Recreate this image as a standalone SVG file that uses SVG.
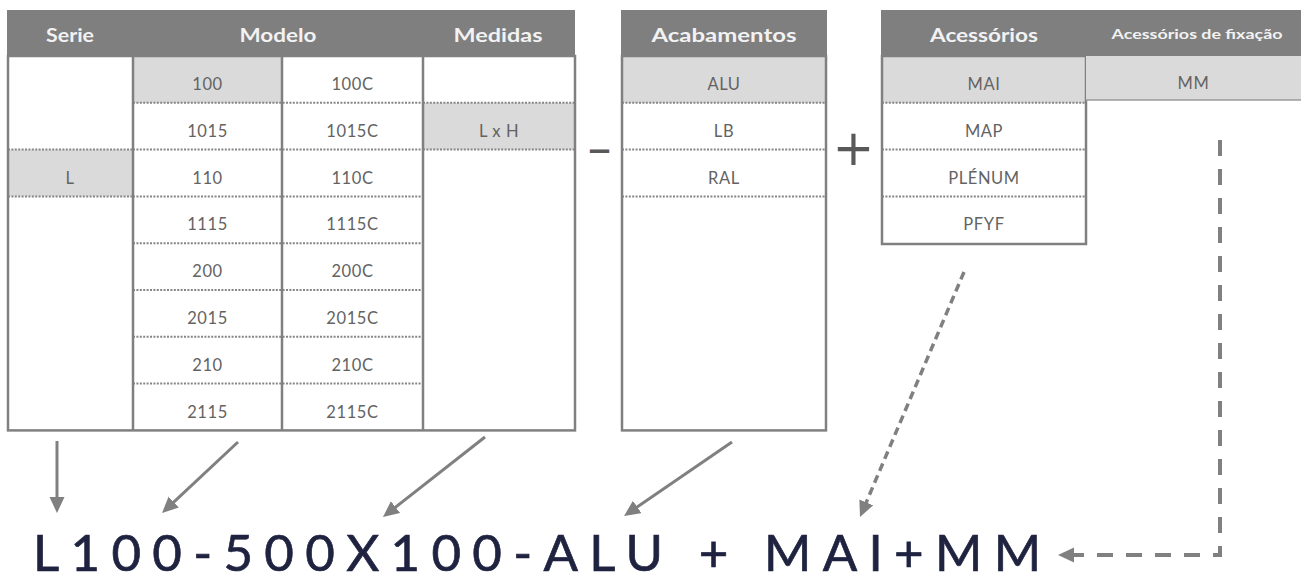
<svg xmlns="http://www.w3.org/2000/svg" width="1301" height="581" viewBox="0 0 1301 581">
<style>
.hdr{fill:#7f7f7f}
.ht{font-family:Lato,"Open Sans",sans-serif;font-weight:bold;font-size:18px;fill:#f2f2f2;text-anchor:middle}
.bt{font-family:Lato,"Open Sans",sans-serif;font-size:16.5px;fill:#636363;text-anchor:middle;letter-spacing:0.6px}
.sh{fill:#dadada}
.dot{stroke:#858585;stroke-width:2;stroke-dasharray:2 1.4;fill:none}
.bd{stroke:#808080;stroke-width:2.5;fill:none}
.op{font-family:"DejaVu Sans",sans-serif;fill:#595959;text-anchor:middle}
.ar{stroke:#808080;stroke-width:3;fill:none}
.ds{stroke:#808080;stroke-width:3.5;fill:none;stroke-dasharray:8 5}
.dl{stroke:#808080;stroke-width:4;fill:none;stroke-dasharray:16 13}
</style>
<defs>
<marker id="ah" markerUnits="userSpaceOnUse" markerWidth="16" markerHeight="16" viewBox="0 0 16 16" refX="4" refY="7.5" orient="auto">
<path d="M0,0 L16,7.5 L0,15 z" fill="#808080"/>
</marker>
</defs>
<rect width="1301" height="581" fill="#ffffff"/>

<g id="serie">
<rect class="sh" x="8" y="149.6" width="125" height="46.8"/>
<path class="dot" d="M8,149.6H133M8,196.4H133"/>
<rect class="hdr" x="7" y="10" width="126" height="46"/>
<text class="ht" x="70" y="41.5" textLength="48" lengthAdjust="spacingAndGlyphs">Serie</text>
<text class="bt" x="70" y="183.6">L</text>
</g>

<g id="modelo">
<rect class="sh" x="133" y="56" width="149" height="46.8"/>
<path class="dot" d="M133,102.8H423M133,149.6H423M133,196.4H423M133,243.2H423M133,290H423M133,336.8H423M133,383.6H423"/>
<rect class="hdr" x="132" y="10" width="292" height="46"/>
<text class="ht" x="278" y="41.5" textLength="77" lengthAdjust="spacingAndGlyphs">Modelo</text>
<text class="bt" x="207.5" y="90">100</text>
<text class="bt" x="207.5" y="136.8">1015</text>
<text class="bt" x="207.5" y="183.6">110</text>
<text class="bt" x="207.5" y="230.4">1115</text>
<text class="bt" x="207.5" y="277.2">200</text>
<text class="bt" x="207.5" y="324">2015</text>
<text class="bt" x="207.5" y="370.8">210</text>
<text class="bt" x="207.5" y="417.6">2115</text>
<text class="bt" x="352.5" y="90">100C</text>
<text class="bt" x="352.5" y="136.8">1015C</text>
<text class="bt" x="352.5" y="183.6">110C</text>
<text class="bt" x="352.5" y="230.4">1115C</text>
<text class="bt" x="352.5" y="277.2">200C</text>
<text class="bt" x="352.5" y="324">2015C</text>
<text class="bt" x="352.5" y="370.8">210C</text>
<text class="bt" x="352.5" y="417.6">2115C</text>
</g>

<g id="medidas">
<rect class="sh" x="423" y="102.8" width="152" height="46.8"/>
<path class="dot" d="M423,102.8H575M423,149.6H575"/>
<rect class="hdr" x="423" y="10" width="152" height="46"/>
<text class="ht" x="498" y="41.5" textLength="89" lengthAdjust="spacingAndGlyphs">Medidas</text>
<text class="bt" x="499" y="136.8">L x H</text>
</g>

<g id="tabela-borda">
<rect class="bd" x="8" y="56" width="567" height="374.4"/>
<path class="bd" d="M133,56V430.4M282,56V430.4M423,56V430.4"/>
</g>

<g id="acabamentos">
<rect class="sh" x="622" y="56" width="204" height="46.8"/>
<path class="dot" d="M622,102.8H826M622,149.6H826M622,196.4H826"/>
<rect class="hdr" x="621" y="10" width="206" height="46"/>
<text class="ht" x="724" y="41.5" textLength="145" lengthAdjust="spacingAndGlyphs">Acabamentos</text>
<text class="bt" x="724" y="90">ALU</text>
<text class="bt" x="724" y="136.8">LB</text>
<text class="bt" x="724" y="183.6">RAL</text>
<rect class="bd" x="622" y="56" width="204" height="374.4"/>
</g>

<g id="acessorios">
<rect class="sh" x="882" y="56" width="204" height="46.8"/>
<path class="dot" d="M882,102.8H1086M882,149.6H1086M882,196.4H1086"/>
<rect class="hdr" x="881" y="10" width="206" height="46"/>
<text class="ht" x="984" y="41.5" textLength="108" lengthAdjust="spacingAndGlyphs">Acessórios</text>
<text class="bt" x="984" y="90">MAI</text>
<text class="bt" x="984" y="136.8">MAP</text>
<text class="bt" x="984" y="183.6">PLÉNUM</text>
<text class="bt" x="984" y="230.4">PFYF</text>
<rect class="bd" x="882" y="56" width="204" height="188"/>
</g>

<g id="fixacao">
<rect class="sh" x="1086" y="56" width="215" height="44"/>
<path d="M1086,100H1301" stroke="#9a9a9a" stroke-width="1.5"/>
<rect class="hdr" x="1086" y="10" width="215" height="46"/>
<text class="ht" x="1197" y="38.5" style="font-size:13px" textLength="171" lengthAdjust="spacingAndGlyphs">Acessórios de fixação</text>
<text class="bt" x="1193.5" y="89">MM</text>
</g>

<g id="operadores">
<text class="op" x="599.5" y="165" style="font-size:48px">–</text>
<text class="op" x="853.5" y="165" style="font-size:50px">+</text>
</g>

<g id="resultado">
<text x="33" y="571" font-family="Lato, 'Open Sans', sans-serif" font-size="51" fill="#1f2340" stroke="#1f2340" stroke-width="0.7" textLength="1008" lengthAdjust="spacing">L100-500X100-ALU + MAI+MM</text>
</g>

<g id="conectores">
<path class="ar" d="M57,441V501" marker-end="url(#ah)"/>
<path class="ar" d="M238,442L170.8,504.8" marker-end="url(#ah)"/>
<path class="ar" d="M485,437L392.4,509.6" marker-end="url(#ah)"/>
<path class="ar" d="M732,442L633.9,509.2" marker-end="url(#ah)"/>
<path class="ds" d="M964,272L864.7,506" marker-end="url(#ah)"/>
<path class="dl" d="M1220,140V555H1070" marker-end="url(#ah)"/>
</g>
</svg>
